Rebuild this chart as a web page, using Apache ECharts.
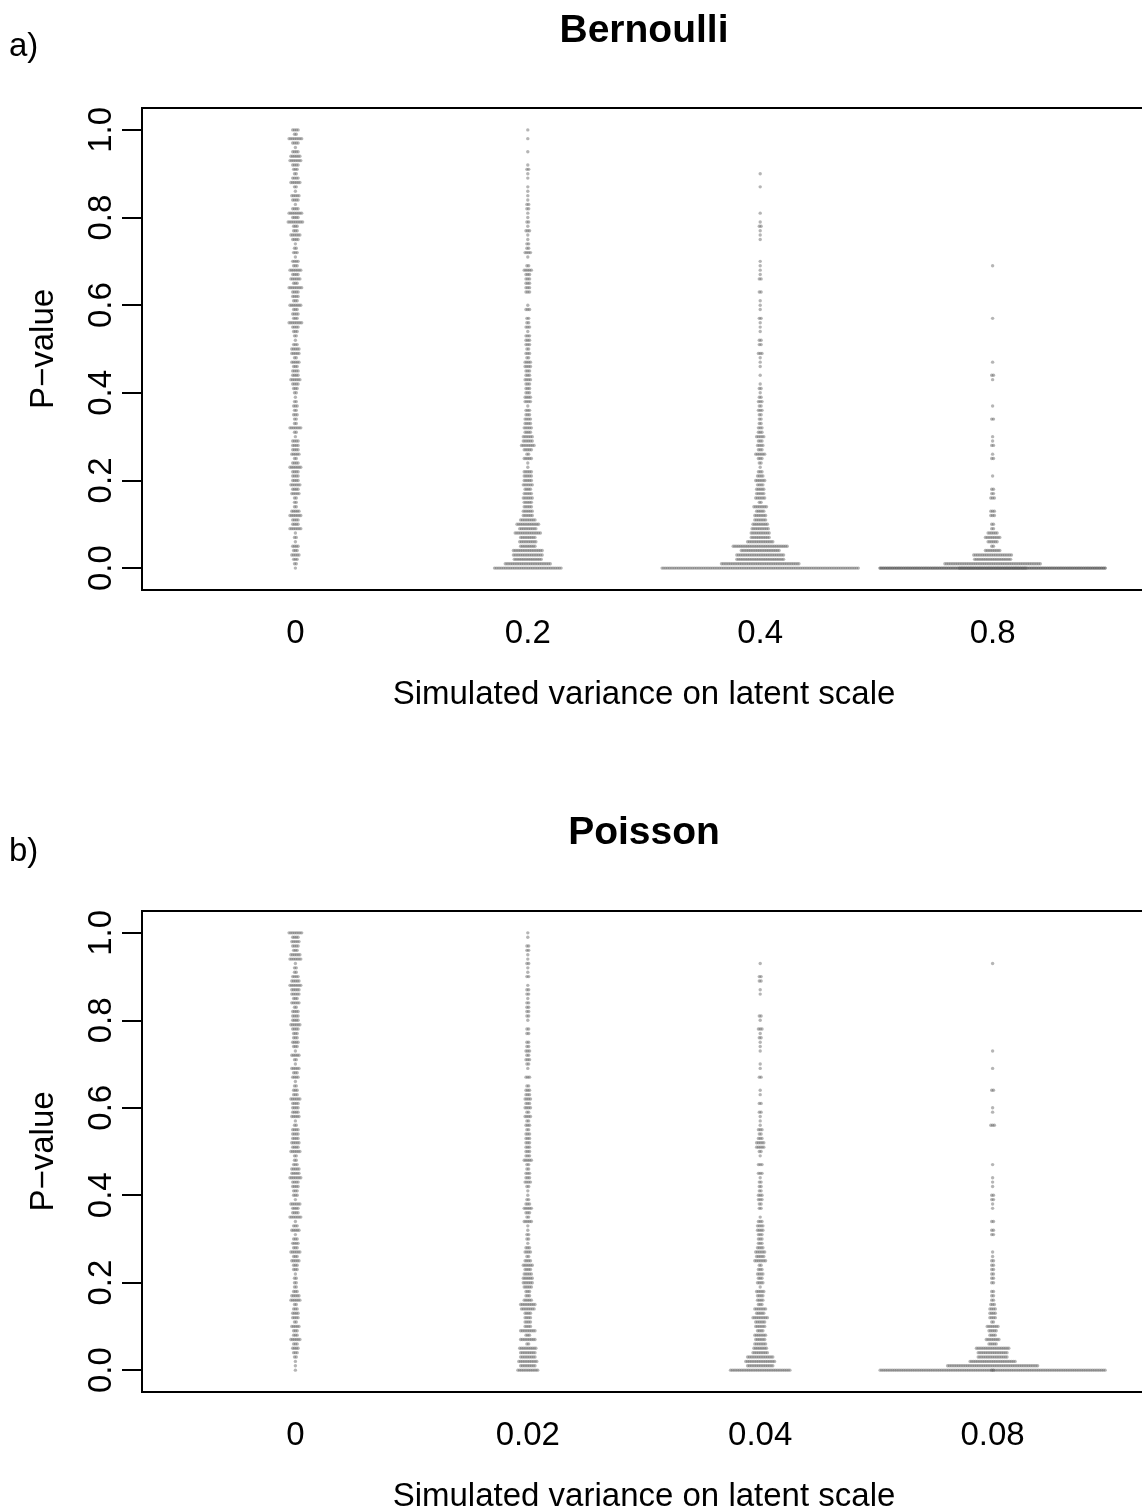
<!DOCTYPE html>
<html><head><meta charset="utf-8">
<script src="https://cdn.jsdelivr.net/npm/echarts@6/dist/echarts.min.js"></script>
<style>html,body{margin:0;padding:0;background:#fff}#c{width:1142px;height:1510px}</style>
</head><body><div id="c"></div>
<script>
// ---------------- data ----------------
const yTicks = [0, 0.2, 0.4, 0.6, 0.8, 1];
const bernoulliLabels = ['0', '0.2', '0.4', '0.8'];
const poissonLabels = ['0', '0.02', '0.04', '0.08'];
// number of simulations per p-value row, listed from p = 1.00 down to p = 0.00 (step 0.01)
const bern_0 = [4,2,8,4,1,4,6,7,4,3, 2,4,6,2,1,5,4,1,4,8, 4,9,3,3,6,4,1,2,3,1, 4,3,7,4,6,3,8,4,4,3,
  7,3,4,3,8,4,3,2,1,3, 5,5,2,5,3,4,4,6,4,3, 2,1,2,3,2,3,2,2,7,2, 1,4,4,4,5,2,4,7,4,4,
  4,6,4,5,2,2,2,5,7,4, 4,7,1,2,1,4,3,5,3,2, 1];
const bern_02 = [1,0,1,0,0,1,0,0,1,2, 1,1,0,1,1,1,1,2,2,1, 1,2,1,3,1,1,2,2,4,1, 0,2,5,3,3,3,3,3,0,0,
  1,3,0,2,2,3,1,3,3,3, 2,3,2,4,4,3,3,4,3,3, 3,4,4,1,3,3,4,4,5,4, 6,6,8,5,2,5,1,1,5,5,
  5,6,4,5,6,5,5,6,6,9, 13,10,15,9,10,9,17,17,16,26, 38];
const bern_04 = [0,0,0,0,0,0,0,0,0,0, 1,0,0,1,0,0,0,0,0,1, 0,1,2,1,1,1,0,0,0,0, 1,1,1,1,2,0,0,2,0,1,
  1,1,0,2,1,1,1,0,2,2, 0,3,1,1,1,0,1,0,1,2, 1,2,3,2,3,2,2,2,3,3, 5,3,4,3,6,3,2,1,3,4,
  6,4,5,5,6,2,8,5,7,7, 9,10,11,11,15,31,22,27,27,44, 110];
const bern_08 = [0,0,0,0,0,0,0,0,0,0, 0,0,0,0,0,0,0,0,0,0, 0,0,0,0,0,0,0,0,0,0, 0,1,0,0,0,0,0,0,0,0,
  0,0,0,1,0,0,0,0,0,0, 0,0,0,1,0,0,2,1,0,0, 0,0,0,1,0,0,2,0,0,0, 1,1,2,0,1,2,0,0,0,1,
  0,0,2,2,3,0,0,3,3,0, 2,2,6,9,6,2,9,22,21,54, 290];
const pois_0 = [8,4,5,4,3,6,7,1,2,2, 4,5,7,5,5,3,5,2,4,4, 4,6,4,3,3,4,3,1,5,2, 1,5,3,4,1,2,3,3,6,4,
  4,4,5,1,2,4,4,4,5,4, 6,2,2,3,5,5,7,4,4,3, 3,1,6,4,4,7,1,3,5,1, 3,4,3,6,3,5,3,3,1,2,
  2,2,3,5,6,2,3,4,4,2, 5,3,3,6,3,4,3,2,1,1, 1];
const pois_002 = [1,1,0,2,2,1,1,2,1,1, 2,0,1,2,2,1,2,2,2,2, 1,0,2,2,0,2,2,3,2,3, 2,1,0,3,0,2,3,3,4,3,
  4,2,4,2,3,2,3,3,3,3, 3,3,5,2,2,3,3,4,2,1, 1,2,3,5,3,2,5,1,1,2, 2,1,3,4,2,4,6,4,5,6,
  6,5,3,3,5,9,8,4,4,4, 4,9,3,9,2,10,9,9,11,9, 12];
const pois_004 = [0,0,0,0,0,0,0,1,0,0, 2,2,0,1,1,0,0,0,0,2, 1,0,3,1,2,1,1,1,0,0, 1,1,0,2,0,0,1,1,0,2,
  0,2,1,1,1,3,2,3,5,5, 2,1,0,3,0,3,1,2,2,2, 3,3,2,2,0,1,3,4,4,3, 3,3,4,6,5,7,2,3,4,3,
  4,1,5,4,4,3,7,5,9,6, 6,4,7,6,7,8,9,15,17,15, 34];
const pois_008 = [0,0,0,0,0,0,0,1,0,0, 0,0,0,0,0,0,0,0,0,0, 0,0,0,0,0,0,0,1,0,0, 0,1,0,0,0,0,2,0,0,0,
  1,1,0,0,3,0,0,0,0,0, 0,0,0,1,0,0,1,1,1,0, 2,2,1,1,0,0,2,0,2,2, 0,0,0,1,1,2,2,2,2,2,
  2,0,2,2,2,3,4,4,4,2, 7,5,4,8,5,19,17,17,26,51, 128];

// ---------------- layout ----------------
const FONT = '"Liberation Sans", Arial, Helvetica, sans-serif';
const DOT = 3.4, PITCH = 1.8, CORRAL = 226;
const X_MIN = 0.34, X_MAX = 4.66, GRID_W = 1004;
const PX_PER_UNIT = GRID_W / (X_MAX - X_MIN);

function swarm(groups) {
  const pts = [];
  const cap = Math.floor(CORRAL / PITCH) + 1;
  groups.forEach((counts, ci) => {
    counts.forEach((n, k) => {
      const p = Math.round((1 - k * 0.01) * 100) / 100;
      for (let i = 0; i < n; i++) {
        const layer = Math.floor(i / cap);
        const m = Math.min(cap, n - layer * cap);
        const j = i - layer * cap;
        const off = (j - (m - 1) / 2) * PITCH;
        pts.push([ci + 1 + off / PX_PER_UNIT, p]);
      }
    });
  });
  return pts;
}

function xAxis(gi, labels) {
  return {
    type: 'value', gridIndex: gi, min: X_MIN, max: X_MAX,
    splitLine: {show: false}, axisLine: {show: false}, axisTick: {show: false},
    axisLabel: {customValues: [1, 2, 3, 4], formatter: v => labels[Math.round(v) - 1],
      fontSize: 33, fontFamily: FONT, color: '#000', margin: 27},
    name: 'Simulated variance on latent scale', nameLocation: 'middle', nameGap: 88,
    nameTextStyle: {fontSize: 33, fontFamily: FONT, color: '#000'}
  };
}
function yAxis(gi) {
  return {
    type: 'value', gridIndex: gi, min: -0.05, max: 1.05,
    splitLine: {show: false}, axisLine: {show: false},
    axisTick: {show: true, customValues: yTicks, length: 20, lineStyle: {color: '#000', width: 2}},
    axisLabel: {customValues: yTicks, rotate: 90, formatter: v => v.toFixed(1),
      fontSize: 33, fontFamily: FONT, color: '#000', margin: 24},
    name: 'P\u2212value', nameLocation: 'middle', nameGap: 82, nameRotate: 90,
    nameTextStyle: {fontSize: 33, fontFamily: FONT, color: '#000'}
  };
}
function dots(gi, groups) {
  return {
    type: 'scatter', xAxisIndex: gi, yAxisIndex: gi, data: swarm(groups),
    symbol: 'circle', symbolSize: DOT, silent: true,
    itemStyle: {color: '#5a5a5a', opacity: 0.45}
  };
}
function txt(x, y, s, bold, size, align) {
  return {type: 'text', x: x, y: y, silent: true,
    style: {text: s, fill: '#000', font: (bold ? 'bold ' : '') + size + 'px ' + FONT,
      align: align, textAlign: align, verticalAlign: 'middle', textVerticalAlign: 'middle'}};
}

const chart = echarts.init(document.getElementById('c'), null, {renderer: 'canvas'});
chart.setOption({
  animation: false,
  backgroundColor: '#fff',
  grid: [
    {left: 142, top: 108, width: GRID_W, height: 482, show: true, borderColor: '#000', borderWidth: 2,
      containLabel: false, outerBoundsMode: 'none'},
    {left: 142, top: 911, width: GRID_W, height: 481, show: true, borderColor: '#000', borderWidth: 2,
      containLabel: false, outerBoundsMode: 'none'}
  ],
  xAxis: [xAxis(0, bernoulliLabels), xAxis(1, poissonLabels)],
  yAxis: [yAxis(0), yAxis(1)],
  series: [
    dots(0, [bern_0, bern_02, bern_04, bern_08]),
    dots(1, [pois_0, pois_002, pois_004, pois_008])
  ],
  graphic: [
    txt(644, 31, 'Bernoulli', true, 39, 'center'),
    txt(9, 47, 'a)', false, 33, 'left'),
    txt(644, 833, 'Poisson', true, 39, 'center'),
    txt(9, 852, 'b)', false, 33, 'left')
  ]
});
</script></body></html>
